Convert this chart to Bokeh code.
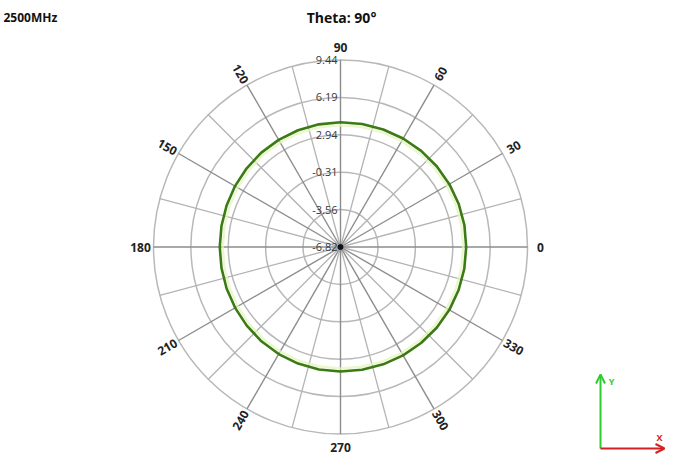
import numpy as np
from bokeh.plotting import figure
from bokeh.models import Range1d, Arrow, OpenHead, ColumnDataSource
from bokeh.core.properties import value
from bokeh.embed import file_html
from bokeh.resources import INLINE

# ---- data ----
freq_label = "2500MHz"
title_text = "Theta: 90°"
angles_deg = [0, 10, 20, 30, 40, 50, 60, 70, 80, 90, 100, 110, 120, 130, 140, 150, 160, 170,
              180, 190, 200, 210, 220, 230, 240, 250, 260, 270, 280, 290, 300, 310, 320, 330, 340, 350]
gain_db = [4.11, 4.12, 4.12, 4.11, 4.10, 4.09, 4.07, 4.05, 4.04, 4.03, 4.01, 3.98, 3.94, 3.89, 3.83, 3.77, 3.72, 3.69,
           3.68, 3.69, 3.72, 3.76, 3.82, 3.88, 3.93, 3.97, 3.99, 4.00, 4.02, 4.04, 4.06, 4.08, 4.10, 4.11, 4.11, 4.11]
gain2_db = [3.85, 3.86, 3.86, 3.85, 3.84, 3.83, 3.81, 3.79, 3.78, 3.77, 3.75, 3.72, 3.68, 3.63, 3.57, 3.51, 3.46, 3.43,
            3.42, 3.43, 3.46, 3.50, 3.56, 3.62, 3.67, 3.71, 3.73, 3.74, 3.76, 3.78, 3.80, 3.82, 3.84, 3.85, 3.85, 3.85]
radial_ticks = [-6.82, -3.56, -0.31, 2.94, 6.19, 9.44]
radial_tick_labels = ["-6.82", "-3.56", "-0.31", "2.94", "6.19", "9.44"]
angle_ticks = [0, 30, 60, 90, 120, 150, 180, 210, 240, 270, 300, 330]
angle_tick_labels = ["0", "30", "60", "90", "120", "150", "180", "210", "240", "270", "300", "330"]
minor_spokes = [15, 45, 75, 105, 135, 165, 195, 225, 255, 285, 315, 345]

# ---- layout (image pixel units) ----
W, H = 666, 455
PAGE_H = 471
def py(y):  # image y -> data y
    return PAGE_H - y

CX, CY = 340.0, py(246.5)
R = 187.0
rmin, rmax = radial_ticks[0], radial_ticks[-1]

def rad(v):
    return (np.asarray(v) - rmin) / (rmax - rmin) * R

p = figure(width=W, height=H, output_backend="svg", toolbar_location=None,
           x_range=Range1d(0, W), y_range=Range1d(PAGE_H - H, PAGE_H),
           min_border=0, x_axis_location=None, y_axis_location=None)
p.grid.visible = False
p.outline_line_color = None
p.background_fill_color = "white"
p.border_fill_color = "white"

# rings
ring_r = rad(radial_ticks[1:])
p.circle(x=[CX] * len(ring_r), y=[CY] * len(ring_r), radius=list(ring_r),
         fill_color=None, line_color="#b8b8b8", line_width=1.5)

# spokes
def spoke_src(angs):
    a = np.radians(angs)
    xs = [[CX, CX + R * np.cos(t)] for t in a]
    ys = [[CY, CY + R * np.sin(t)] for t in a]
    return xs, ys

xs, ys = spoke_src(minor_spokes)
p.multi_line(xs, ys, line_color="#b3b3b3", line_width=1.3)
xs, ys = spoke_src(angle_ticks)
p.multi_line(xs, ys, line_color="#8c8c8c", line_width=1.4)

# traces
def trace_xy(angs, vals):
    a = np.radians(list(angs) + [angs[0]])
    r = rad(list(vals) + [vals[0]])
    return CX + r * np.cos(a), CY + r * np.sin(a)

x2, y2 = trace_xy(angles_deg, gain2_db)
p.line(x2, y2, line_color="#e4f5bd", line_width=2.5, line_alpha=0.75)
x1, y1 = trace_xy(angles_deg, gain_db)
p.line(x1, y1, line_color="#3b7a14", line_width=2.6)

# center dot
p.scatter([CX], [CY], size=5, color="#111111")

# radial tick labels
p.text(x=[CX - 3] * len(radial_ticks), y=list(CY + rad(radial_ticks)),
       text=radial_tick_labels, text_align="right", text_baseline="middle",
       text_font=value("Open Sans"), text_font_size="11px", text_color="#3a3a3a")

# angle tick labels
lab_r = R + 13
la = np.radians(angle_ticks)
rots = []
for d in angle_ticks:
    if d in (0, 90, 180, 270):
        rots.append(0.0)
    elif d < 90 or d > 270:
        rots.append(np.radians(d if d < 90 else d - 360))
    else:
        rots.append(np.radians(d - 180))
src = ColumnDataSource(dict(x=CX + lab_r * np.cos(la), y=CY + lab_r * np.sin(la),
                            t=angle_tick_labels, a=rots))
p.text(x="x", y="y", text="t", angle="a", source=src, text_align="center", text_baseline="middle",
       text_font=value("Open Sans"), text_font_size="12px", text_font_style="bold", text_color="#222222")

# titles
p.text(x=[3], y=[py(17)], text=[freq_label], text_align="left", text_baseline="middle",
       text_font=value("Open Sans"), text_font_size="12px", text_font_style="bold", text_color="#111111")
p.text(x=[341], y=[py(17)], text=[title_text], text_align="center", text_baseline="middle",
       text_font=value("Open Sans"), text_font_size="14px", text_font_style="bold", text_color="#111111")

# axis indicator
ox, oy = 600, py(448)
p.add_layout(Arrow(x_start=ox, y_start=oy, x_end=ox, y_end=py(374),
                   line_color="#2ecc2e", line_width=2,
                   end=OpenHead(size=9, line_color="#2ecc2e", line_width=2)))
p.add_layout(Arrow(x_start=ox, y_start=oy, x_end=664, y_end=oy,
                   line_color="#d42020", line_width=2,
                   end=OpenHead(size=9, line_color="#d42020", line_width=2)))
p.text(x=[611], y=[py(381)], text=["Y"], text_align="center", text_baseline="middle",
       text_font=value("Open Sans"), text_font_size="9px", text_font_style="bold", text_color="#2ecc2e")
p.text(x=[659], y=[py(437)], text=["X"], text_align="center", text_baseline="middle",
       text_font=value("Open Sans"), text_font_size="9px", text_font_style="bold", text_color="#d42020")

open("out.html", "w").write(file_html(p, INLINE))
